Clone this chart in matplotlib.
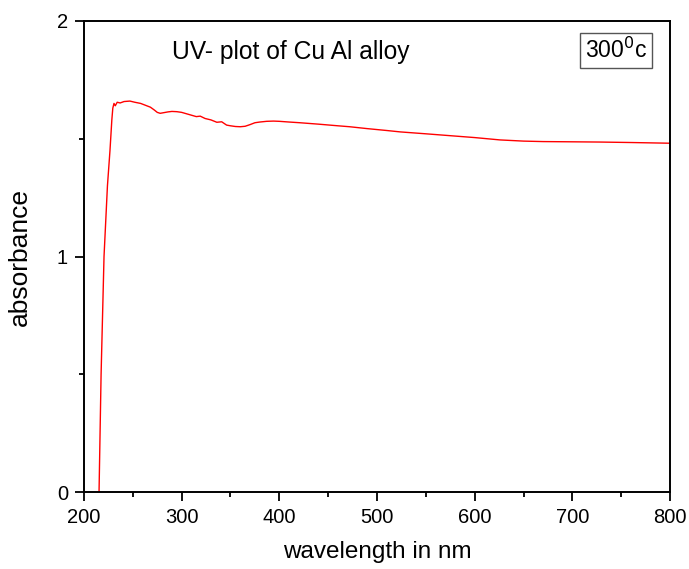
import matplotlib.pyplot as plt
from matplotlib.ticker import MultipleLocator

plt.rcParams['font.family'] = ['Liberation Sans', 'DejaVu Sans']

wavelength = [215.4, 217.5, 220.5, 224.0, 226.6, 228.5, 229.5, 230.7, 232, 234, 237, 241,
              247, 252, 258, 263, 268, 272, 275, 278, 282, 286, 290, 295, 300,
              305, 310, 315, 319, 324, 330, 336, 341, 346, 350, 355, 360, 365,
              370, 375, 380, 387, 394, 400, 410, 421, 440, 460, 472, 490,
              510, 524, 550, 575, 600, 626, 650, 670, 700, 728, 760, 800]
absorbance = [0.0, 0.5, 1.0, 1.3, 1.45, 1.58, 1.63, 1.65, 1.64, 1.655, 1.652, 1.658,
              1.66, 1.655, 1.65, 1.642, 1.634, 1.622, 1.612, 1.608, 1.611, 1.614, 1.616, 1.615, 1.612,
              1.606, 1.600, 1.594, 1.596, 1.586, 1.580, 1.570, 1.572, 1.558, 1.555, 1.552, 1.551, 1.553,
              1.560, 1.568, 1.571, 1.574, 1.575, 1.574, 1.571, 1.568, 1.562, 1.555, 1.551, 1.543,
              1.535, 1.529, 1.521, 1.513, 1.505, 1.495, 1.490, 1.488, 1.487, 1.486, 1.484, 1.481]

fig = plt.figure(figsize=(6.89, 5.69), dpi=100)
ax = fig.add_axes([84 / 689, 1 - 492 / 569, 586 / 689, 471 / 569])

ax.plot(wavelength, absorbance, color='red', linewidth=1.0)

ax.set_xlim(200, 800)
ax.set_ylim(0, 2)
ax.xaxis.set_major_locator(MultipleLocator(100))
ax.xaxis.set_minor_locator(MultipleLocator(50))
ax.yaxis.set_major_locator(MultipleLocator(1))
ax.yaxis.set_minor_locator(MultipleLocator(0.5))
ax.tick_params(which='major', direction='out', length=6.5, width=1.3, labelsize=14.5, pad=5)
ax.tick_params(which='minor', direction='out', length=3.5, width=1.3)
ax.tick_params(top=False, right=False)
for s in ax.spines.values():
    s.set_linewidth(1.4)

ax.set_xlabel('wavelength in nm', fontsize=17.5, labelpad=10)
ax.set_ylabel('absorbance', fontsize=19, labelpad=18)

ax.text(0.151, 0.935, 'UV- plot of Cu Al alloy', transform=ax.transAxes,
        fontsize=17.7, va='center', ha='left')
ax.text(0.908, 0.937, '300$^0$c', transform=ax.transAxes, fontsize=16.5,
        va='center', ha='center',
        bbox=dict(boxstyle='square,pad=0.2', facecolor='white', edgecolor='#555555', linewidth=1))

fig.savefig('out.png', dpi=100)
